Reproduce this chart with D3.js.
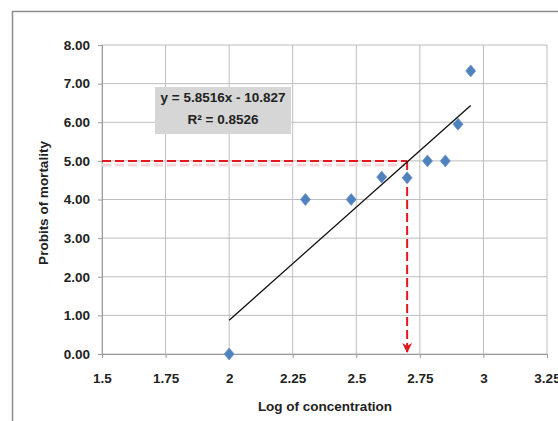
<!DOCTYPE html>
<html>
<head>
<meta charset="utf-8">
<script src="https://cdn.jsdelivr.net/npm/d3@7"></script>
<style>
  body { margin: 0; background: #fff; }
  text { font-family: "Liberation Sans Narrow", "Arial Narrow", "Liberation Sans", sans-serif; font-weight: bold; fill: #222; }
</style>
</head>
<body>
<svg id="chart" width="558" height="421"></svg>
<script>
"use strict";

// log of concentration and probit values
var logConc = [2.00, 2.30, 2.48, 2.60, 2.70, 2.78, 2.85, 2.90, 2.95];
var probits = [0.00, 4.00, 4.00, 4.58, 4.56, 5.00, 5.00, 5.95, 7.33];

var xTicks = [1.5, 1.75, 2, 2.25, 2.5, 2.75, 3, 3.25];
var yTicks = [0, 1, 2, 3, 4, 5, 6, 7, 8];

// linear trend line as printed on the chart
var slope = 5.8516,
    intercept = -10.827,
    eqLabel = ["y = 5.8516x - 10.827", "R\u00B2 = 0.8526"];

// LC50 read-off: probit 5 -> log concentration
var lcProbit = 5.0,
    lcLog = 2.70;

var Chart = (function(){
	var svg, x, y;

	function init(el) {
		svg = d3.select("#" + el);
		x = d3.scaleLinear().domain([1.5, 3.25]).range([102, 547]);
		y = d3.scaleLinear().domain([0, 8]).range([354, 45]);

		drawFrame();
		drawGrid();
		drawAxes();
		drawReadOff();
		drawTrend();
		drawPoints();
		drawLabel();
	}

	function drawFrame() {
		svg.append("path")
			.attr("d", "M12.5,421 V11.5 H558")
			.attr("fill", "none")
			.attr("stroke", "#8c8c8c")
			.attr("stroke-width", 1.5);
	}

	function drawGrid() {
		var g = svg.append("g").attr("class", "grid");
		g.selectAll("line.h")
			.data(yTicks)
			.enter()
			.append("line")
			.attr("class", "h")
			.attr("x1", x(1.5)).attr("x2", x(3.25))
			.attr("y1", function(d) { return y(d); })
			.attr("y2", function(d) { return y(d); })
			.attr("stroke", "#bebebe");
		g.selectAll("line.v")
			.data(xTicks)
			.enter()
			.append("line")
			.attr("class", "v")
			.attr("y1", y(0)).attr("y2", y(8))
			.attr("x1", function(d) { return x(d); })
			.attr("x2", function(d) { return x(d); })
			.attr("stroke", "#bebebe");
	}

	function drawAxes() {
		var xa = svg.append("g")
			.attr("transform", "translate(0," + y(0) + ")")
			.call(d3.axisBottom(x).tickValues(xTicks).tickSize(4).tickPadding(15)
				.tickFormat(function(d) { return String(d); }));
		var ya = svg.append("g")
			.attr("transform", "translate(" + x(1.5) + ",0)")
			.call(d3.axisLeft(y).tickValues(yTicks).tickSize(4).tickPadding(8)
				.tickFormat(d3.format(".2f")));
		[xa, ya].forEach(function(a) {
			a.select(".domain").attr("stroke", "#9a9a9a");
			a.selectAll(".tick line").attr("stroke", "#9a9a9a");
			a.selectAll("text").attr("font-size", 13.5).attr("fill", "#222")
				.style("font-family", "'Liberation Sans Narrow', 'Arial Narrow', sans-serif")
				.style("font-weight", "bold");
		});

		svg.append("text")
			.attr("x", 325).attr("y", 411)
			.attr("text-anchor", "middle")
			.attr("font-size", 13.5)
			.text("Log of concentration");

		svg.append("text")
			.attr("transform", "translate(48,203) rotate(-90)")
			.attr("text-anchor", "middle")
			.attr("font-size", 13.5)
			.text("Probits of mortality");
	}

	function drawReadOff() {
		var defs = svg.append("defs");
		defs.append("marker")
			.attr("id", "arrow")
			.attr("viewBox", "0 0 10 10")
			.attr("refX", 9).attr("refY", 5)
			.attr("markerWidth", 5).attr("markerHeight", 5)
			.attr("orient", "auto")
			.append("path")
			.attr("d", "M0,0 L10,5 L0,10 L3,5 Z")
			.attr("fill", "#e0191e");

		// faint shadow under the dashed line
		svg.append("line")
			.attr("x1", x(1.5)).attr("x2", x(lcLog) - 2)
			.attr("y1", y(lcProbit) + 4).attr("y2", y(lcProbit) + 4)
			.attr("stroke", "#f6d7d9").attr("stroke-width", 3)
			.attr("stroke-dasharray", "9,4");

		svg.append("line")
			.attr("x1", x(1.5)).attr("x2", x(lcLog))
			.attr("y1", y(lcProbit)).attr("y2", y(lcProbit))
			.attr("stroke", "#e0191e").attr("stroke-width", 2)
			.attr("stroke-dasharray", "9,4");

		svg.append("line")
			.attr("x1", x(lcLog)).attr("x2", x(lcLog))
			.attr("y1", y(lcProbit)).attr("y2", y(0) - 2)
			.attr("stroke", "#e0191e").attr("stroke-width", 2)
			.attr("stroke-dasharray", "9,4")
			.attr("marker-end", "url(#arrow)");
	}

	function drawTrend() {
		var x0 = d3.min(logConc), x1 = d3.max(logConc);
		svg.append("line")
			.attr("x1", x(x0)).attr("y1", y(slope * x0 + intercept))
			.attr("x2", x(x1)).attr("y2", y(slope * x1 + intercept))
			.attr("stroke", "#111").attr("stroke-width", 1.3);
	}

	function drawPoints() {
		var pts = logConc.map(function(v, i) { return [v, probits[i]]; });
		svg.selectAll("path.pt")
			.data(pts)
			.enter()
			.append("path")
			.attr("class", "pt")
			.attr("d", "M0,-6 L5,0 L0,6 L-5,0 Z")
			.attr("transform", function(d) {
				return "translate(" + x(d[0]) + "," + y(d[1]) + ")";
			})
			.attr("fill", "#4f81bd")
			.attr("stroke", "#6f98cc")
			.attr("stroke-width", 0.8);
	}

	function drawLabel() {
		svg.append("rect")
			.attr("x", 155).attr("y", 87)
			.attr("width", 136).attr("height", 47)
			.attr("fill", "#d6d6d6");
		svg.selectAll("text.eq")
			.data(eqLabel)
			.enter()
			.append("text")
			.attr("class", "eq")
			.attr("x", 223)
			.attr("y", function(d, i) { return 102 + i * 22; })
			.attr("text-anchor", "middle")
			.attr("font-size", 13.5)
			.text(function(d) { return d; });
	}

	return {
		"init": init
	};
}());

Chart.init("chart");
</script>
</body>
</html>
